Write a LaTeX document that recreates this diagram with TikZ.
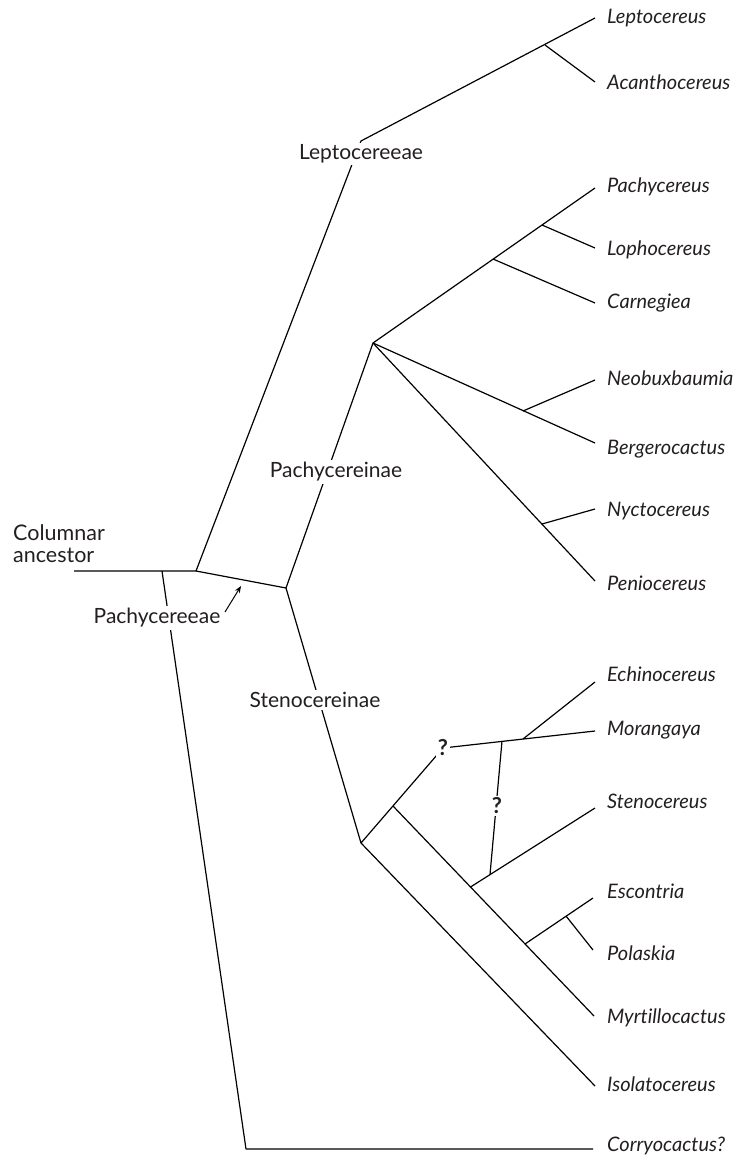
\documentclass[tikz,border=0pt]{standalone}
\usepackage{fontspec}
\setmainfont{Lato}[Ligatures=NoCommon]
\usetikzlibrary{arrows.meta}
\definecolor{txt}{HTML}{231F20}
\begin{document}
\begin{tikzpicture}[x=1pt,y=-1pt,
  branch/.style={line width=1.2pt, black, line join=round},
  leaf/.style={anchor=mid west, inner sep=0pt, text=txt, font=\fontsize{20}{24}\selectfont\itshape},
  clade/.style={fill=white, inner sep=2pt, text=txt, font=\fontsize{21}{25}\selectfont},
  qmark/.style={fill=white, inner sep=1.5pt, text=txt, font=\fontsize{22}{24}\selectfont\bfseries}]
\useasboundingbox (0,0) rectangle (745,1161);

% internal points
\coordinate (A0) at (74,571);
\coordinate (C0) at (162,571);
\coordinate (R) at (196,571);
\coordinate (C1) at (246,1149);
\coordinate (L) at (361,141);
\coordinate (AcB) at (545,45);
\coordinate (P) at (286,588);
\coordinate (PN) at (373,343);
\coordinate (LophB) at (542,225);
\coordinate (CarnB) at (493,259);
\coordinate (NeoB) at (523,411);
\coordinate (NyctB) at (542,524);
\coordinate (S) at (361,843);
\coordinate (Q) at (443,748);
\coordinate (EchB) at (523,739);
\coordinate (QVt) at (502,741);
\coordinate (MyB) at (393,806);
\coordinate (StB) at (470.5,887);
\coordinate (QVb) at (490,874.6);
\coordinate (QVm) at (497,806);
\coordinate (EscB) at (525,944);
\coordinate (PolB) at (566,916);
\coordinate (ArS) at (225,612);
\coordinate (ArT) at (241,586);

% leaf ends
\coordinate (eLept) at (595,18);
\coordinate (eAcan) at (595,82);
\coordinate (ePachy) at (595,188);
\coordinate (eLoph) at (595,248);
\coordinate (eCarn) at (595,303);
\coordinate (eNeo) at (595,380);
\coordinate (eBerg) at (595,443);
\coordinate (eNyct) at (595,509);
\coordinate (ePenio) at (595,581);
\coordinate (eEch) at (595,682);
\coordinate (eMor) at (595,731);
\coordinate (eSten) at (595,808);
\coordinate (eEsc) at (593,898);
\coordinate (ePol) at (593,950);
\coordinate (eMyrt) at (594,1016);
\coordinate (eIso) at (595,1086);
\coordinate (eCorr) at (593,1149);

% branches
\draw[branch] (A0) -- (R) -- (L) -- (eLept);
\draw[branch] (AcB) -- (eAcan);
\draw[branch] (C0) -- (C1) -- (eCorr);
\draw[branch] (R) -- (P) -- (PN) -- (ePachy);
\draw[branch] (LophB) -- (eLoph);
\draw[branch] (CarnB) -- (eCarn);
\draw[branch] (PN) -- (eBerg);
\draw[branch] (NeoB) -- (eNeo);
\draw[branch] (PN) -- (ePenio);
\draw[branch] (NyctB) -- (eNyct);
\draw[branch] (P) -- (S) -- (Q) -- (eMor);
\draw[branch] (EchB) -- (eEch);
\draw[branch] (S) -- (eIso);
\draw[branch] (MyB) -- (eMyrt);
\draw[branch] (StB) -- (eSten);
\draw[branch] (QVt) -- (QVb);
\draw[branch] (EscB) -- (eEsc);
\draw[branch] (PolB) -- (ePol);
\draw[line width=1pt, black, -{Stealth[length=7pt,width=5.5pt]}] (ArS) -- (ArT);

% clade labels
\node[clade] (lLepto) at (361,154) {Leptocereeae};
\node[clade] (lPachyinae) at (336,472) {Pachycereinae};
\node[clade] (lSteno) at (315,700) {Stenocereinae};
\node[clade] (lPachyeae) at (157,618) {Pachycereeae};
\node[anchor=north west, align=left, inner sep=0pt, text=txt, font=\fontsize{21.5}{22}\selectfont] (lAnc) at (13,524) {Columnar\\ancestor};
\node[qmark] (q1) at (Q) {?};
\node[qmark] (q2) at (QVm) {?};

% leaf labels
\node[leaf] (nLept) at (607,21) {Leptocereus};
\node[leaf] (nAcan) at (607,87) {Acanthocereus};
\node[leaf] (nPachy) at (607,190) {Pachycereus};
\node[leaf] (nLoph) at (607,253) {Lophocereus};
\node[leaf] (nCarn) at (607,306) {Carnegiea};
\node[leaf] (nNeo) at (607,383) {Neobuxbaumia};
\node[leaf] (nBerg) at (607,452) {Bergerocactus};
\node[leaf] (nNyct) at (607,514) {Nyctocereus};
\node[leaf] (nPenio) at (607,588) {Peniocereus};
\node[leaf] (nEch) at (607,679) {Echinocereus};
\node[leaf] (nMor) at (607,733) {Morangaya};
\node[leaf] (nSten) at (607,806) {Stenocereus};
\node[leaf] (nEsc) at (607,896) {Escontria};
\node[leaf] (nPol) at (607,958) {Polaskia};
\node[leaf] (nMyrt) at (607,1021) {Myrtillocactus};
\node[leaf] (nIso) at (607,1089) {Isolatocereus};
\node[leaf] (nCorr) at (607,1149) {Corryocactus?};
\end{tikzpicture}
\end{document}
